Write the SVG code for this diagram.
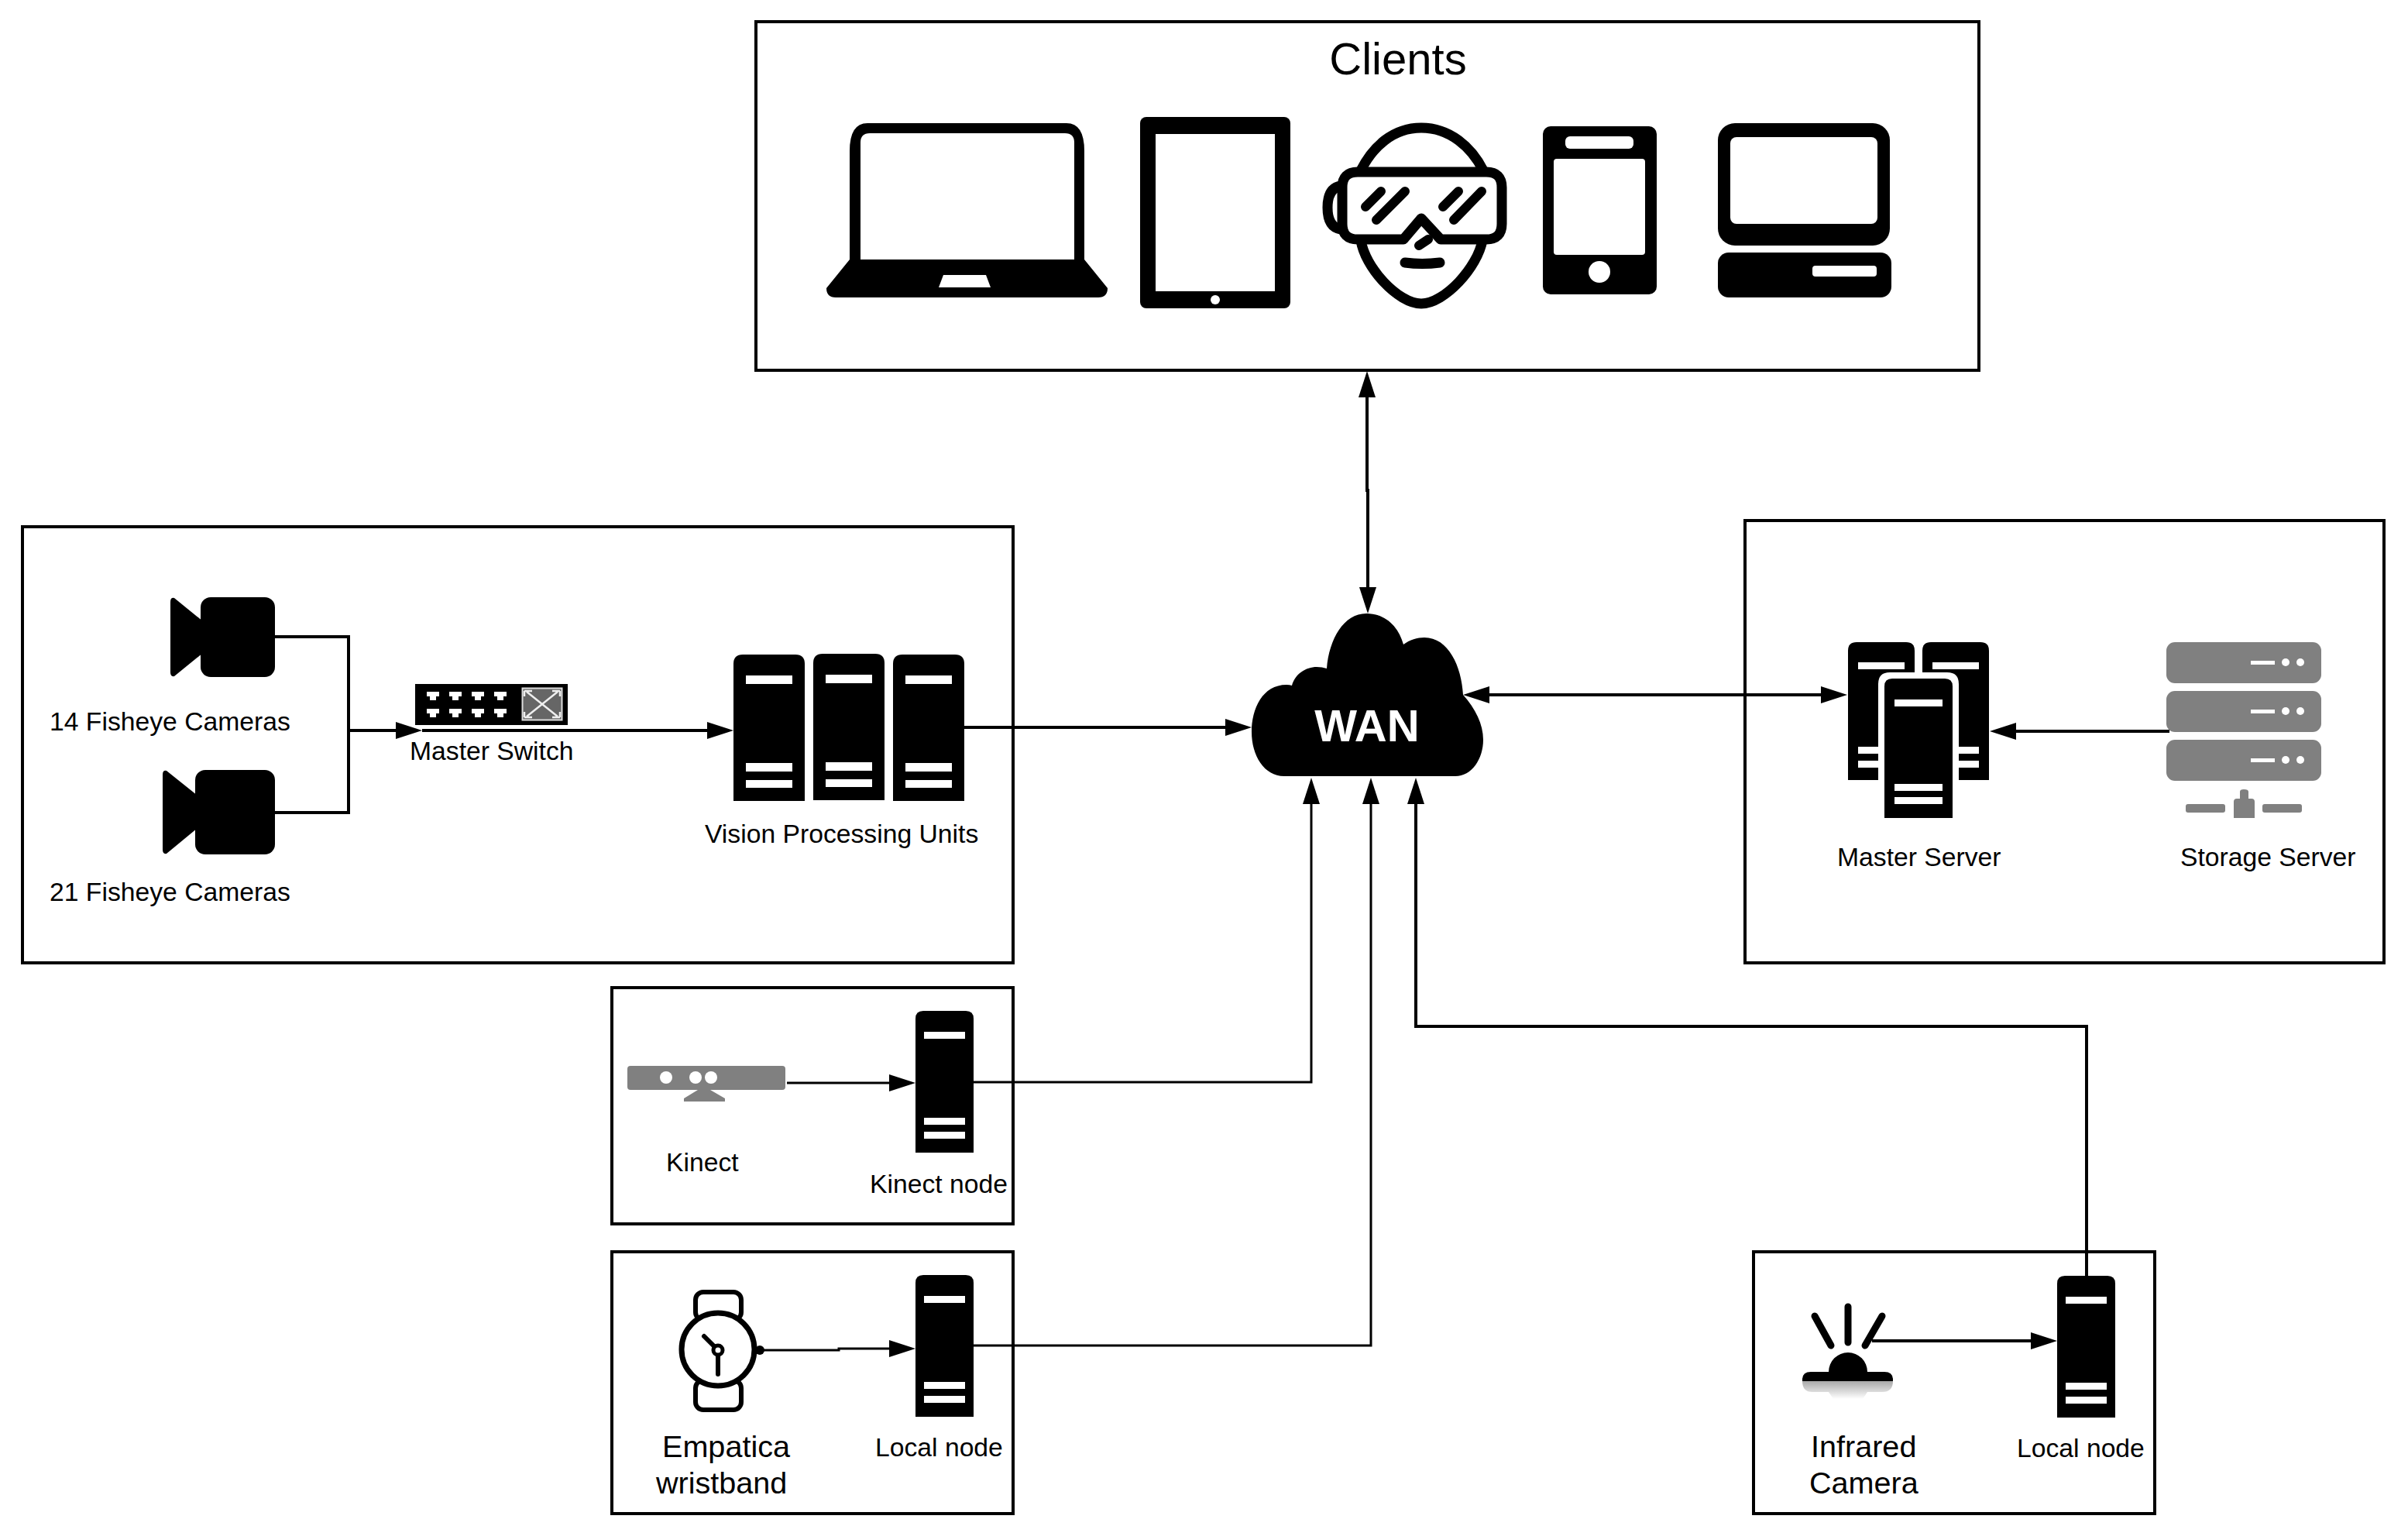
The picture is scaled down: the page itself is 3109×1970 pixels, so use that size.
<svg xmlns="http://www.w3.org/2000/svg" xmlns:xlink="http://www.w3.org/1999/xlink" width="3109" height="1970" viewBox="0 0 3109 1970">
<style>
text{font-family:"Liberation Sans",Arial,sans-serif;fill:#000}
.s33{font-size:33.700px}.s39{font-size:39.600px}
.box{fill:#fff;stroke:#000;stroke-width:4}
.conn{fill:none;stroke:#000;stroke-width:4}
.thin{stroke-width:3}
.g{fill:#808080}.w{fill:#fff}
.vr{fill:none;stroke:#000;stroke-width:13;stroke-linecap:round;stroke-linejoin:round}
</style>
<defs>
<marker id="ah" markerUnits="userSpaceOnUse" markerWidth="34" markerHeight="22" refX="28" refY="11" orient="auto-start-reverse"><path d="M0 0L34 11L0 22Z" fill="#000"/></marker>
<linearGradient id="refl" x1="0" y1="0" x2="0" y2="1"><stop offset="0" stop-color="#a8a8a8"/><stop offset="1" stop-color="#fff"/></linearGradient>
<g id="srv"><path d="M0 183V10Q0 0 10 0H65Q75 0 75 10V183Z"/><path class="w" d="M11 27h53v9H11zM11 138h53v9H11zM11 156h53v9H11z"/></g>
<g id="vpu"><path d="M0 189V12Q0 0 12 0H80Q92 0 92 12V189Z"/><path class="w" d="M16 27h60v11H16zM16 140h60v11H16zM16 162h60v10H16z"/></g>
<g id="rack"><rect width="200" height="53" rx="11" class="g"/><path class="w" d="M109 24h31v5h-31z"/><circle class="w" cx="154" cy="26" r="5"/><circle class="w" cx="173" cy="26" r="5"/></g>
<path id="port" class="w" d="M-8 0H8V6H4V11H-4V6H-8Z"/>
</defs>

<g id="box-clients"><rect class="box" x="976" y="28" width="1579" height="450"/><text x="1805" y="96" font-size="58" text-anchor="middle">Clients</text></g>
<g id="box-vision"><rect class="box" x="29" y="680" width="1279" height="563"/></g>
<g id="box-servers"><rect class="box" x="2253" y="672" width="825" height="571"/></g>
<g id="box-kinect"><rect class="box" x="790" y="1275" width="518" height="305"/></g>
<g id="box-empatica"><rect class="box" x="790" y="1616" width="518" height="338"/></g>
<g id="box-infrared"><rect class="box" x="2264" y="1616" width="518" height="338"/></g>

<g id="laptop">
<path d="M1097 335V195Q1097 159 1120 159H1377Q1400 159 1400 195V335L1430 372Q1430 384 1418 384H1079Q1067 384 1067 372Z"/>
<path class="w" d="M1111 335V184Q1111 172 1123 172H1375Q1387 172 1387 184V335Z"/>
<path class="w" d="M1218 355H1273L1279 371H1212Z"/>
</g>
<g id="tablet">
<rect x="1472" y="151" width="194" height="247" rx="8"/>
<rect class="w" x="1492" y="173" width="154" height="203"/>
<circle class="w" cx="1569" cy="387" r="6"/>
</g>
<g id="vr-headset">
<path class="vr" d="M1757 220C1772 190 1798 165 1835 165C1872 165 1900 190 1915 220"/>
<path class="vr" d="M1757 310C1762 345 1805 392 1835 392C1865 392 1908 345 1914 310"/>
<path class="vr" d="M1753 222H1919Q1939 222 1939 242V289Q1939 309 1919 309H1860L1835 282L1812 309H1753Q1733 309 1733 289V242Q1733 222 1753 222Z"/>
<path class="vr" d="M1731 240Q1714 243 1714 268Q1714 293 1731 296"/>
<path class="vr" style="stroke-width:12" d="M1763 267L1783 247M1777 284L1814 247M1863 267L1883 247M1877 284L1913 247M1832 317L1844 309"/>
<path class="vr" d="M1814 339Q1836 342 1859 339"/>
</g>
<g id="phone">
<rect x="1992" y="163" width="147" height="217" rx="10"/>
<rect class="w" x="2021" y="176" width="88" height="16" rx="6"/>
<rect class="w" x="2006" y="205" width="118" height="124" rx="4"/>
<circle class="w" cx="2065" cy="351" r="14"/>
</g>
<g id="desktop">
<rect x="2218" y="159" width="222" height="158" rx="22"/>
<rect class="w" x="2234" y="177" width="190" height="112" rx="8"/>
<rect x="2218" y="326" width="224" height="58" rx="14"/>
<rect class="w" x="2340" y="343" width="83" height="14" rx="4"/>
</g>

<g id="camera-14">
<rect x="259" y="771" width="96" height="103" rx="13"/>
<path d="M220 777Q220 771 225 772L262 802V843L225 873Q220 874 220 868Z"/>
<text class="s33" x="64" y="943">14 Fisheye Cameras</text>
</g>
<g id="camera-21">
<rect x="252" y="994" width="103" height="109" rx="13"/>
<path d="M210 1000Q210 994 215 995L255 1027V1069L215 1102Q210 1103 210 1097Z"/>
<text class="s33" x="64" y="1163">21 Fisheye Cameras</text>
</g>
<g id="master-switch">
<rect x="536" y="883" width="197" height="53"/>
<rect x="674.500" y="888.500" width="51" height="41" fill="#666" stroke="#ddd" stroke-width="2"/>
<path d="M680 893L720 925M720 893L680 925M677 892h10M677 892v7M723 892h-10M723 892v7M677 926h10M677 926v-7M723 926h-10M723 926v-7" fill="none" stroke="#eee" stroke-width="2.500"/>
<use href="#port" x="559" y="893"/><use href="#port" x="588" y="893"/><use href="#port" x="617" y="893"/><use href="#port" x="646" y="893"/>
<use href="#port" x="559" y="915"/><use href="#port" x="588" y="915"/><use href="#port" x="617" y="915"/><use href="#port" x="646" y="915"/>
<text class="s33" x="529" y="981">Master Switch</text>
</g>
<g id="vision-units">
<use href="#vpu" x="947" y="845"/><use href="#vpu" x="1050" y="844"/><use href="#vpu" x="1153" y="845"/>
<text class="s33" x="910" y="1088">Vision Processing Units</text>
</g>
<g id="wan">
<path d="M1658 1002C1632 1002 1616 975 1616 945C1616 915 1630 884 1661 884Q1665 884 1668 885C1672 870 1686 861 1700 861Q1707 861 1713 863C1716 825 1735 792 1764 792C1790 792 1806 810 1812 832C1820 826 1830 823 1839 823C1870 823 1887 860 1889 897C1905 915 1915 935 1915 955C1915 980 1900 1002 1879 1002Z"/>
<text x="1765" y="957" font-size="58" font-weight="bold" text-anchor="middle" style="fill:#fff">WAN</text>
</g>
<g id="master-server">
<g transform="translate(0,-2)">
<path d="M2386 1009V842Q2386 831 2397 831H2461Q2472 831 2472 842V1009Z"/>
<path d="M2482 1009V842Q2482 831 2493 831H2557Q2568 831 2568 842V1009Z"/>
<path class="w" d="M2399 857h60v9h-60zM2399 966h60v9h-60zM2399 984h60v9h-60zM2495 857h60v9h-60zM2495 966h60v9h-60zM2495 984h60v9h-60z"/>
<path class="w" d="M2425 1058V885Q2425 870 2440 870H2514Q2529 870 2529 885V1058Z"/>
<path d="M2433 1058V888Q2433 878 2443 878H2511Q2521 878 2521 888V1058Z"/>
<path class="w" d="M2446 905h62v9h-62zM2446 1014h62v9h-62zM2446 1031h62v9h-62z"/>
</g>
<text class="s33" x="2372" y="1118">Master Server</text>
</g>
<g id="storage-server">
<g transform="translate(0,-2)">
<use href="#rack" x="2797" y="831"/><use href="#rack" x="2797" y="894"/><use href="#rack" x="2797" y="957"/>
<rect class="g" x="2822" y="1040" width="51" height="11" rx="3"/><rect class="g" x="2921" y="1040" width="51" height="11" rx="3"/>
<path class="g" d="M2884 1058V1037Q2884 1033 2888 1033H2892V1024Q2892 1021 2897 1021Q2903 1021 2903 1024V1033H2907Q2911 1033 2911 1037V1058Z"/>
</g>
<text class="s33" x="2815" y="1118">Storage Server</text>
</g>
<g id="kinect">
<rect class="g" x="810" y="1376" width="204" height="31" rx="4"/>
<circle class="w" cx="860" cy="1391" r="8"/><circle class="w" cx="898" cy="1391" r="8"/><circle class="w" cx="918" cy="1391" r="8"/>
<path class="g" d="M901 1407H917L936 1418V1422H883V1418Z"/>
<text class="s33" x="860" y="1512">Kinect</text>
</g>
<g id="kinect-node"><use href="#srv" x="1182" y="1305"/><text class="s33" x="1123" y="1540">Kinect node</text></g>
<g id="empatica">
<rect x="898" y="1668" width="59" height="36" rx="10" fill="none" stroke="#000" stroke-width="6"/>
<rect x="898" y="1782" width="59" height="38" rx="10" fill="none" stroke="#000" stroke-width="6"/>
<circle cx="927" cy="1742" r="47" fill="#fff" stroke="#000" stroke-width="7"/>
<circle cx="981" cy="1743" r="6"/>
<path d="M909 1725L927 1743V1774" fill="none" stroke="#000" stroke-width="6" stroke-linecap="round"/>
<circle cx="927" cy="1743" r="6" fill="#fff" stroke="#000" stroke-width="5"/>
<text class="s39" x="855" y="1881">Empatica</text>
<text class="s39" x="847" y="1928">wristband</text>
</g>
<g id="local-node-1"><use href="#srv" x="1182" y="1646"/><text class="s33" x="1130" y="1880">Local node</text></g>
<g id="infrared-camera">
<path d="M2343 1699L2364 1737M2386 1687V1733M2430 1699L2408 1737" fill="none" stroke="#000" stroke-width="9" stroke-linecap="round"/>
<path d="M2327 1783V1781Q2327 1771 2338 1771H2361A25 25 0 0 1 2411 1771H2433Q2444 1771 2444 1781V1783Z"/>
<path fill="url(#refl)" d="M2327 1783H2444Q2444 1797 2430 1797H2411L2405 1806H2367L2361 1797H2340Q2327 1797 2327 1783Z"/>
<text class="s39" x="2338" y="1881">Infrared</text>
<text class="s39" x="2336" y="1928">Camera</text>
</g>
<g id="local-node-2"><use href="#srv" x="2656" y="1647"/><text class="s33" x="2604" y="1881">Local node</text></g>

<g id="connectors">
<path class="conn" d="M355 822H450V1049H355"/>
<path class="conn" marker-end="url(#ah)" d="M450 943H539"/>
<path class="conn" marker-end="url(#ah)" d="M545 943H941"/>
<path class="conn" marker-end="url(#ah)" d="M1245 939H1610"/>
<path class="conn" marker-start="url(#ah)" marker-end="url(#ah)" d="M1765 485V633H1766V786"/>
<path class="conn" marker-start="url(#ah)" marker-end="url(#ah)" d="M1895 897H2379"/>
<path class="conn" marker-end="url(#ah)" d="M2801 944H2575"/>
<path class="conn thin" marker-end="url(#ah)" d="M1016 1398H1176"/>
<path class="conn thin" marker-end="url(#ah)" d="M986 1743H1083V1741H1176"/>
<path class="conn" marker-end="url(#ah)" d="M2417 1731H2650"/>
<path class="conn thin" marker-end="url(#ah)" d="M1257 1397H1693V1010"/>
<path class="conn thin" marker-end="url(#ah)" d="M1257 1737H1770V1010"/>
<path class="conn" marker-end="url(#ah)" d="M2694 1647V1325H1828V1010"/>
</g>
</svg>
